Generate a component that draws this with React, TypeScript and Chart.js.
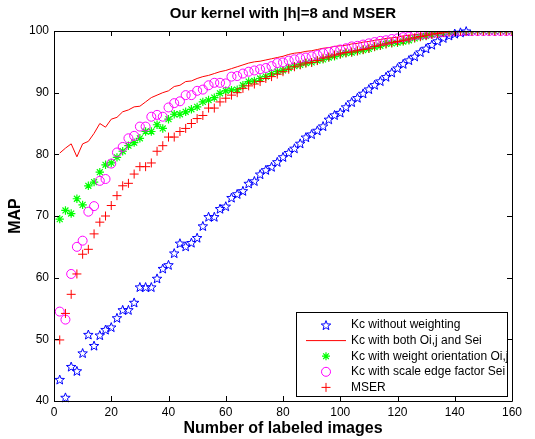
import React, { useEffect, useRef } from 'react';
import { Chart, registerables } from 'chart.js';

Chart.register(...registerables);

const chartTitle = 'Our kernel with |h|=8 and MSER';
const xAxisTitle = 'Number of labeled images';
const yAxisTitle = 'MAP';
const xTickValues = [0, 20, 40, 60, 80, 100, 120, 140, 160];
const yTickValues = [40, 50, 60, 70, 80, 90, 100];

const labeledImages = [
  2, 4, 6, 8, 10, 12, 14, 16, 18, 20,
  22, 24, 26, 28, 30, 32, 34, 36, 38, 40,
  42, 44, 46, 48, 50, 52, 54, 56, 58, 60,
  62, 64, 66, 68, 70, 72, 74, 76, 78, 80,
  82, 84, 86, 88, 90, 92, 94, 96, 98, 100,
  102, 104, 106, 108, 110, 112, 114, 116, 118, 120,
  122, 124, 126, 128, 130, 132, 134, 136, 138, 140,
  142, 144, 146, 148, 150, 152, 154, 156, 158, 160,
];

const kcWithout = [
  43.5, 40.6, 45.6, 44.9, 47.8, 50.8, 49.0, 50.7, 51.6, 52.0,
  53.5, 54.8, 54.8, 56.0, 58.5, 58.5, 58.5, 59.9, 61.5, 62.1,
  64.0, 65.6, 65.1, 65.7, 66.5, 68.4, 69.9, 69.9, 71.2, 71.6,
  73.0, 73.6, 74.1, 75.3, 75.7, 76.8, 77.5, 78.0, 78.8, 79.6,
  80.3, 81.0, 81.8, 82.8, 83.3, 83.9, 84.6, 85.7, 86.4, 86.8,
  87.7, 88.5, 89.2, 89.9, 90.6, 91.3, 91.9, 92.6, 93.3, 94.0,
  94.7, 95.3, 95.9, 96.6, 97.2, 97.8, 98.4, 98.9, 99.3, 99.6,
  99.8, 100, null, null, null, null, null, null, null, null,
];

const kcBoth = [
  80.2, 81.0, 81.7, 79.6, 81.7, 82.1, 83.4, 85.0, 84.4, 85.7,
  86.0, 86.9, 87.2, 87.7, 87.8, 88.5, 89.2, 89.6, 90.0, 90.3,
  91.0, 91.2, 91.8, 91.9, 92.3, 92.6, 92.8, 93.1, 93.4, 93.6,
  93.9, 94.2, 94.5, 94.8, 95.0, 95.1, 95.3, 95.5, 95.7, 95.9,
  96.2, 96.4, 96.5, 96.7, 96.8, 97.0, 97.2, 97.3, 97.5, 97.6,
  97.7, 97.9, 98.0, 98.2, 98.3, 98.5, 98.6, 98.8, 98.9, 99.0,
  99.2, 99.3, 99.4, 99.5, 99.6, 99.7, 99.8, 99.9, 100, 100,
  100, 100, 100, 100, 100, 100, 100, 100, 100, 100,
];

const kcOrientation = [
  69.5, 70.9, 70.4, 72.8, 71.8, 74.9, 75.5, 77.1, 78.3, 78.6,
  79.5, 80.5, 81.4, 81.9, 82.6, 83.7, 83.7, 84.8, 84.2, 85.7,
  86.5, 86.5, 86.9, 87.3, 87.7, 88.5, 88.8, 89.2, 89.9, 90.3,
  90.4, 90.5, 91.2, 91.8, 91.9, 92.3, 92.6, 93.1, 93.4, 93.6,
  94.0, 94.3, 94.5, 94.8, 94.9, 95.2, 95.4, 95.7, 95.9, 96.2,
  96.4, 96.5, 96.7, 96.9, 97.1, 97.4, 97.6, 97.9, 98.0, 98.1,
  98.3, 98.5, 98.8, 99.0, 99.2, 99.4, 99.5, 99.7, 99.8, 99.9,
  100, 100, 100, 100, 100, 100, 100, 100, 100, 100,
];

const kcScaleEdge = [
  54.5, 53.2, 60.6, 65.0, 66.0, 70.7, 71.6, 75.7, 76.0, 78.5,
  80.3, 81.2, 82.6, 83.0, 84.5, 84.5, 86.1, 86.4, 86.1, 87.6,
  88.3, 88.6, 89.6, 89.6, 90.3, 90.5, 91.2, 91.6, 91.6, 91.5,
  92.6, 92.7, 93.1, 93.4, 93.6, 93.8, 94.0, 94.3, 94.8, 94.9,
  95.2, 95.4, 95.6, 95.7, 95.9, 96.1, 96.4, 96.6, 96.8, 97.0,
  97.2, 97.5, 97.6, 97.8, 98.0, 98.2, 98.4, 98.5, 98.7, 98.8,
  99.0, 99.1, 99.3, 99.4, 99.5, 99.6, 99.7, 99.8, 99.9, 100,
  100, 100, 100, 100, 100, 100, 100, 100, 100, 100,
];

const mser = [
  49.9, 54.2, 57.3, 60.6, 63.8, 64.6, 67.1, 69.0, 70.0, 71.7,
  73.3, 74.9, 75.3, 76.8, 78.0, 78.0, 78.6, 80.5, 81.4, 82.8,
  82.8, 83.7, 84.2, 85.0, 85.8, 86.3, 87.5, 87.5, 88.5, 89.1,
  89.6, 90.0, 90.7, 91.1, 91.4, 91.8, 92.3, 92.6, 93.0, 93.4,
  93.8, 94.2, 94.5, 94.8, 94.9, 95.2, 95.6, 95.8, 96.1, 96.3,
  96.5, 96.6, 96.8, 97.0, 97.2, 97.5, 97.7, 97.9, 98.1, 98.3,
  98.5, 98.7, 98.9, 99.1, 99.3, 99.5, 99.6, 99.8, 99.9, 100,
  100, 100, 100, 100, 100, 100, 100, 100, 100, 100,
];

const seriesNames = [
  'Kc without weighting',
  'Kc with both Oi,j and Sei',
  'Kc with weight orientation Oi,j',
  'Kc with scale edge factor Sei',
  'MSER',
];

const FONT = "'Liberation Sans', Arial, Helvetica, sans-serif";

function pentagramPath(ctx: CanvasRenderingContext2D, cx: number, cy: number, R: number) {
  const r = R * 0.42;
  ctx.beginPath();
  for (let i = 0; i < 10; i++) {
    const a = -Math.PI / 2 + (i * Math.PI) / 5;
    const rad = i % 2 === 0 ? R : r;
    ctx.lineTo(cx + rad * Math.cos(a), cy + 0.6 + rad * Math.sin(a));
  }
  ctx.closePath();
}

export default function App() {
  const ref = useRef<HTMLCanvasElement | null>(null);

  useEffect(() => {
    document.body.style.margin = '0';
    const canvas = ref.current;
    if (!canvas) return;

    const pts = (ys: (number | null)[]) => labeledImages.map((x, i) => ({ x, y: ys[i] }));

    // draws the pentagram markers of dataset 0 at the positions Chart.js computed
    const pentagramPlugin = {
      id: 'pentagramMarkers',
      afterDatasetDraw(chart: any, args: any) {
        if (args.index !== 0) return;
        const { ctx } = chart;
        const meta = chart.getDatasetMeta(0);
        ctx.save();
        ctx.strokeStyle = '#0000ff';
        ctx.lineWidth = 1;
        meta.data.forEach((el: any) => {
          if (el.skip || !isFinite(el.y)) return;
          pentagramPath(ctx, el.x, el.y, 5);
          ctx.stroke();
        });
        ctx.restore();
      },
    };

    const framePlugin = {
      id: 'matlabFrame',
      afterDraw(chart: any) {
        const { ctx, chartArea } = chart;
        const { left, right, top, bottom } = chartArea;
        const xs = chart.scales.x;
        const ys = chart.scales.y;
        ctx.save();
        // title centred over the axes
        ctx.fillStyle = '#000';
        ctx.font = `bold 15px ${FONT}`;
        ctx.textAlign = 'center';
        ctx.textBaseline = 'middle';
        ctx.fillText(chartTitle, (left + right) / 2, 14);

        ctx.strokeStyle = '#000';
        ctx.lineWidth = 1;
        ctx.beginPath();
        ctx.rect(left + 0.5, top + 0.5, right - left, bottom - top);
        ctx.stroke();
        const tl = 5;
        ctx.beginPath();
        xTickValues.forEach((v) => {
          const px = Math.round(xs.getPixelForValue(v)) + 0.5;
          ctx.moveTo(px, bottom);
          ctx.lineTo(px, bottom - tl);
          ctx.moveTo(px, top);
          ctx.lineTo(px, top + tl);
        });
        yTickValues.forEach((v) => {
          const py = Math.round(ys.getPixelForValue(v)) + 0.5;
          ctx.moveTo(left, py);
          ctx.lineTo(left + tl, py);
          ctx.moveTo(right, py);
          ctx.lineTo(right - tl, py);
        });
        ctx.stroke();

        // legend box
        const bx = 296.5, by = 312.5, bw = 211, bh = 84;
        ctx.fillStyle = '#fff';
        ctx.fillRect(bx, by, bw, bh);
        ctx.strokeStyle = '#000';
        ctx.strokeRect(bx, by, bw, bh);
        const mx = 326;
        const tx = 351;
        const rowH = 15.6;
        const y0 = by + 12.5;
        ctx.font = `12px ${FONT}`;
        ctx.textBaseline = 'middle';
        ctx.textAlign = 'left';
        seriesNames.forEach((name, i) => {
          const cy = y0 + i * rowH;
          ctx.fillStyle = '#000';
          ctx.fillText(name, tx, cy);
          ctx.lineWidth = 1;
          if (i === 0) {
            ctx.strokeStyle = '#0000ff';
            pentagramPath(ctx, mx, cy, 5);
            ctx.stroke();
          } else if (i === 1) {
            ctx.strokeStyle = '#ff0000';
            ctx.beginPath();
            ctx.moveTo(306, cy);
            ctx.lineTo(346, cy);
            ctx.stroke();
          } else if (i === 2) {
            ctx.strokeStyle = '#00ff00';
            ctx.lineWidth = 1.2;
            ctx.beginPath();
            const r = 4;
            ctx.moveTo(mx - r, cy); ctx.lineTo(mx + r, cy);
            ctx.moveTo(mx, cy - r); ctx.lineTo(mx, cy + r);
            const d = r * Math.SQRT1_2;
            ctx.moveTo(mx - d, cy - d); ctx.lineTo(mx + d, cy + d);
            ctx.moveTo(mx - d, cy + d); ctx.lineTo(mx + d, cy - d);
            ctx.stroke();
          } else if (i === 3) {
            ctx.strokeStyle = '#ff00ff';
            ctx.beginPath();
            ctx.arc(mx, cy, 4.5, 0, Math.PI * 2);
            ctx.stroke();
          } else {
            ctx.strokeStyle = '#ff0000';
            ctx.beginPath();
            ctx.moveTo(mx - 4.5, cy); ctx.lineTo(mx + 4.5, cy);
            ctx.moveTo(mx, cy - 4.5); ctx.lineTo(mx, cy + 4.5);
            ctx.stroke();
          }
        });
        ctx.restore();
      },
    };

    const chart = new Chart(canvas, {
      type: 'line',
      data: {
        datasets: [
          {
            label: seriesNames[0],
            data: pts(kcWithout),
            showLine: false,
            pointRadius: 0,
            borderColor: '#0000ff',
            backgroundColor: 'transparent',
            order: 4,
          },
          {
            label: seriesNames[1],
            data: pts(kcBoth),
            showLine: true,
            borderColor: '#ff0000',
            borderWidth: 1,
            pointRadius: 0,
            tension: 0,
            fill: false,
            order: 3,
          },
          {
            label: seriesNames[2],
            data: pts(kcOrientation),
            showLine: false,
            pointStyle: 'star',
            pointRadius: 4.2,
            pointBorderWidth: 1.2,
            borderColor: '#00ff00',
            backgroundColor: 'transparent',
            order: 2,
          },
          {
            label: seriesNames[3],
            data: pts(kcScaleEdge),
            showLine: false,
            pointStyle: 'circle',
            pointRadius: 4.5,
            pointBorderWidth: 1,
            borderColor: '#ff00ff',
            backgroundColor: 'transparent',
            order: 1,
          },
          {
            label: seriesNames[4],
            data: pts(mser),
            showLine: false,
            pointStyle: 'cross',
            pointRadius: 4.5,
            pointBorderWidth: 1,
            borderColor: '#ff0000',
            backgroundColor: 'transparent',
            order: 0,
          },
        ],
      },
      options: {
        responsive: false,
        animation: false,
        devicePixelRatio: 1,
        layout: { padding: { left: 0, right: 23, top: 31, bottom: 0 } },
        plugins: {
          legend: { display: false },
          tooltip: { enabled: false },
          title: { display: false },
        },
        scales: {
          x: {
            type: 'linear',
            min: 0,
            max: 160,
            grid: { display: false, drawTicks: false },
            border: { display: false },
            afterBuildTicks: (scale: any) => {
              scale.ticks = xTickValues.map((v) => ({ value: v }));
            },
            afterFit: (scale: any) => {
              scale.height = 38;
            },
            ticks: {
              color: '#000',
              font: { family: FONT, size: 12 },
              padding: 4,
              maxRotation: 0,
              autoSkip: false,
            },
            title: {
              display: true,
              text: xAxisTitle,
              color: '#000',
              font: { family: FONT, size: 16, weight: 'bold' },
              padding: { top: 0, bottom: 1 },
            },
          },
          y: {
            type: 'linear',
            min: 40,
            max: 100,
            grid: { display: false, drawTicks: false },
            border: { display: false },
            afterBuildTicks: (scale: any) => {
              scale.ticks = yTickValues.map((v) => ({ value: v }));
            },
            afterFit: (scale: any) => {
              scale.width = 54;
            },
            ticks: {
              color: '#000',
              font: { family: FONT, size: 12 },
              padding: 5,
              autoSkip: false,
            },
            title: {
              display: true,
              text: yAxisTitle,
              color: '#000',
              font: { family: FONT, size: 16, weight: 'bold' },
              padding: { top: 6, bottom: 0 },
            },
          },
        },
      },
      plugins: [pentagramPlugin, framePlugin],
    });

    return () => {
      chart.destroy();
    };
  }, []);

  return (
    <div style={{ width: 535, height: 439, background: '#fff' }}>
      <canvas ref={ref} width={535} height={439} style={{ width: 535, height: 439, display: 'block' }} />
    </div>
  );
}
